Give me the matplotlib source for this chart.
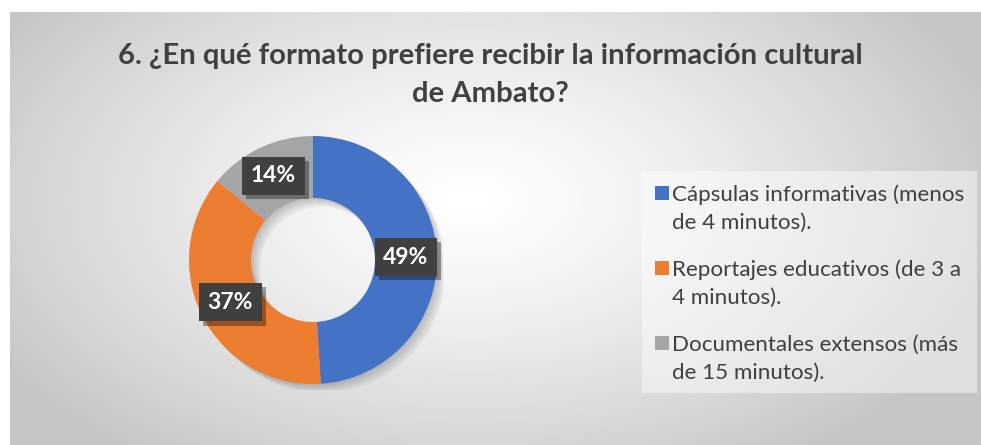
import numpy as np
import matplotlib
matplotlib.use("Agg")
import matplotlib.pyplot as plt
from matplotlib.patches import Rectangle, Wedge
import matplotlib.patheffects as pe

# ---- data ----
categories = [
    "Cápsulas informativas (menos\nde 4 minutos).",
    "Reportajes educativos (de 3 a\n4 minutos).",
    "Documentales extensos (más\nde 15 minutos).",
]
values = [49, 37, 14]
colors = ["#4472C4", "#ED7D31", "#A5A5A5"]
title = "6. ¿En qué formato prefiere recibir la información cultural\nde Ambato?"

FONT = ["Lato", "DejaVu Sans"]
TXT = "#404040"

W, H = 981, 445
fig = plt.figure(figsize=(W / 100, H / 100), dpi=100)
fig.patch.set_facecolor("white")


def fx(px):
    return px / W


def fy(py):
    return 1 - py / H


# ---- background radial gradient ----
bg = fig.add_axes([0, 0, 1, 1], zorder=0)
yy, xx = np.mgrid[0:H, 0:W] + 0.5
x0, y0 = 10, 12
cx, cy = 470, 200
rx, ry = 520, 300
d = np.sqrt(((xx - cx) / rx) ** 2 + ((yy - cy) / ry) ** 2)
v = 1.0 - (1.0 - 0.78) * np.clip(d / 1.05, 0, 1) ** 1.3
img = np.dstack([v, v, v])
img[(xx < x0) | (yy < y0)] = 1.0
bg.imshow(img, extent=[0, W, H, 0], aspect="auto", interpolation="bilinear")
bg.set_xlim(0, W)
bg.set_ylim(H, 0)
bg.axis("off")

# ---- title ----
fig.text(fx(490), fy(75), title, ha="center", va="center", fontsize=21.1,
         fontweight="bold", color=TXT, family=FONT, linespacing=1.55)

# ---- donut ----
pcx, pcy, R = 313, 260, 124
half = 130
ax = fig.add_axes([fx(pcx - half), fy(pcy + half), 2 * half / W, 2 * half / H], zorder=1)
ax.set_facecolor("none")

for k in range(6):
    off = 0.012 * (k + 1)
    ax.add_patch(Wedge((off, -off), 1.0, 0, 360, width=0.5, facecolor="black",
                       edgecolor="none", alpha=0.035, zorder=0))

wedges, _ = ax.pie(values, colors=colors, startangle=90, counterclock=False,
                   radius=1.0, wedgeprops=dict(width=0.5, edgecolor="none"))
for w in wedges:
    w.set_zorder(2)
lim = half / R
ax.set_xlim(-lim, lim)
ax.set_ylim(-lim, lim)
ax.set_aspect("auto")
ax.axis("off")

for w, val in zip(wedges, values):
    ang = np.deg2rad((w.theta1 + w.theta2) / 2)
    r = 0.75
    t = ax.text(r * np.cos(ang), r * np.sin(ang), f"{val}%", ha="center",
                va="center", fontsize=16.5, fontweight="bold", color="white",
                family=FONT, zorder=5,
                bbox=dict(boxstyle="square,pad=0.38", facecolor="#404040",
                          edgecolor="none"))
    t.get_bbox_patch().set_path_effects([
        pe.SimplePatchShadow(offset=(3, -3), shadow_rgbFace="black", alpha=0.35),
        pe.Normal()])

# ---- legend ----
fig.patches.append(Rectangle((fx(642), fy(393)), (977 - 642) / W, (393 - 171) / H,
                             transform=fig.transFigure, facecolor="white",
                             alpha=0.45, edgecolor="none", zorder=1))
for i, (lab, c) in enumerate(zip(categories, colors)):
    ymid = 193 + 75 * i
    fig.patches.append(Rectangle((fx(655), fy(ymid + 7)), 14 / W, 14 / H,
                                 transform=fig.transFigure, facecolor=c,
                                 edgecolor="none", zorder=2))
    fig.text(fx(672), fy(ymid + 6 + 30), lab, ha="left", va="baseline", fontsize=16.1,
             color=TXT, family=FONT, linespacing=1.5, zorder=3)

fig.savefig("out.png", dpi=100)
